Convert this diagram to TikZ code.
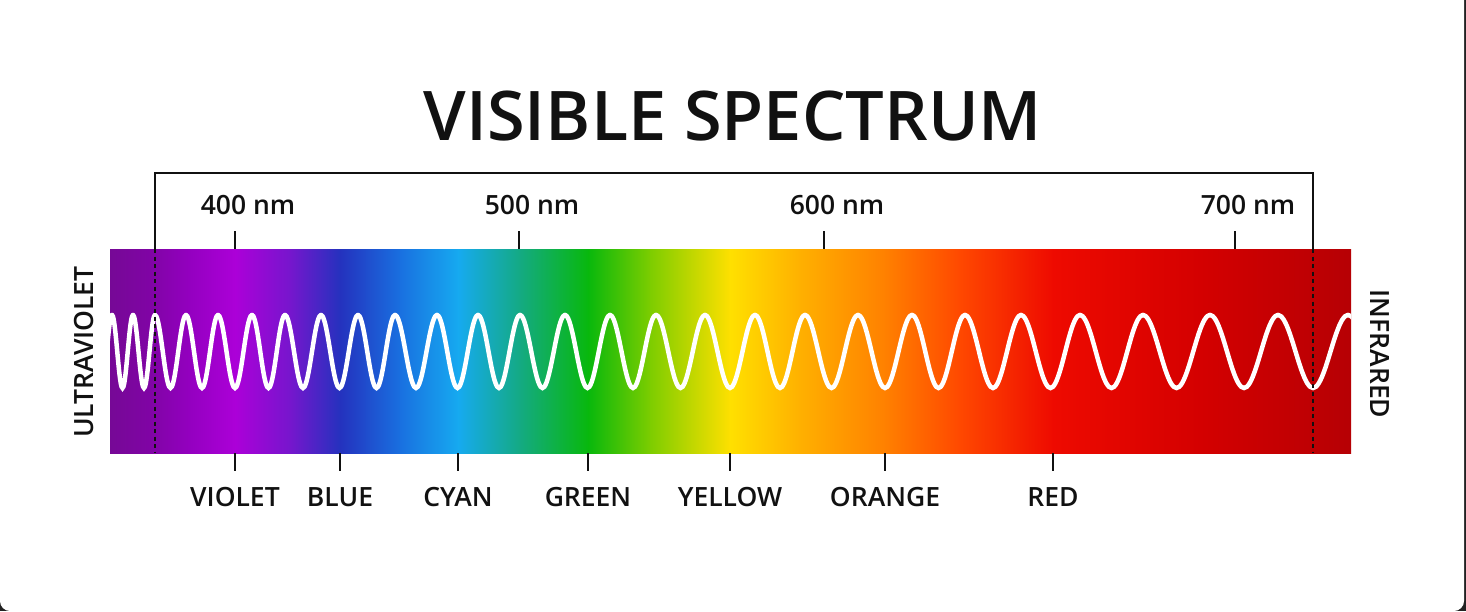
\documentclass[tikz,border=0pt]{standalone}
\usepackage{fontspec}
\setmainfont{Open Sans}[BoldFont={* Semibold}]
\definecolor{ink}{RGB}{17,17,17}
\definecolor{frame}{RGB}{34,34,34}
\definecolor{s0}{RGB}{118,8,150}
\definecolor{s1}{RGB}{128,4,165}
\definecolor{s2}{RGB}{148,0,192}
\definecolor{s3}{RGB}{172,0,216}
\definecolor{s4}{RGB}{118,22,205}
\definecolor{s5}{RGB}{36,50,190}
\definecolor{s6}{RGB}{25,112,224}
\definecolor{s7}{RGB}{22,170,240}
\definecolor{s8}{RGB}{20,170,130}
\definecolor{s9}{RGB}{8,184,12}
\definecolor{s10}{RGB}{125,205,0}
\definecolor{s11}{RGB}{255,224,0}
\definecolor{s12}{RGB}{255,176,0}
\definecolor{s13}{RGB}{255,128,0}
\definecolor{s14}{RGB}{255,72,0}
\definecolor{s15}{RGB}{238,10,0}
\definecolor{s16}{RGB}{212,0,0}
\definecolor{s17}{RGB}{182,0,4}
\begin{document}
\begin{tikzpicture}[x=1pt,y=-1pt,
  titlestyle/.style={font=\bfseries\fontsize{68.5}{76}\selectfont, text=ink, inner sep=0pt, anchor=base},
  lbl/.style={font=\bfseries\fontsize{26.5}{30}\selectfont, text=ink, inner sep=0pt, anchor=base},
  tickline/.style={line width=2.4pt, draw=ink},
  bracketline/.style={line width=2pt, draw=ink},
  dotline/.style={line width=2.8pt, draw=ink, dash pattern=on 4pt off 3.5pt},
  waveline/.style={line width=4.5pt, draw=white, line cap=round},
  ]
\useasboundingbox (0,0) rectangle (1466,611);
\fill[frame] (0,0) rectangle (1466,611);
\fill[white, rounded corners=10pt] (0,-30) rectangle (1464,611);

% spectrum band
\foreach \xa/\xb/\ca/\cb in {110/150/s0/s1, 150/190/s1/s2, 190/235/s2/s3, 235/290/s3/s4,
  290/340/s4/s5, 340/400/s5/s6, 400/458/s6/s7, 458/520/s7/s8, 520/588/s8/s9,
  588/650/s9/s10, 650/730/s10/s11, 730/800/s11/s12, 800/885/s12/s13, 885/960/s13/s14,
  960/1053/s14/s15, 1053/1200/s15/s16, 1200/1351/s16/s17}
  \shade[left color=\ca, right color=\cb] (\xa,249) rectangle ({min(\xb+0.8,1351)},453);
\coordinate (bandNW) at (110,249);
\coordinate (bandSE) at (1351,453);

% wave
\begin{scope}
\clip (bandNW) rectangle (bandSE);
\foreach \a/\b in {70/91, 91/112, 112/133, 133/155, 155/186, 186/218, 218/252, 252/285, 285/321,
  321/358, 358/395, 395/437, 437/478, 478/520, 520/565, 565/610, 610/656, 656/705,
  705/755, 755/805, 805/858, 858/912, 912/965, 965/1021, 1021/1080, 1080/1143,
  1143/1210, 1210/1278, 1278/1348, 1348/1420}
  \draw[waveline] plot[domain=0:360, samples=25, smooth] ({\a+(\b-\a)*(\x/360)}, {351.5-36.5*cos(\x)});
\end{scope}

% bracket and dotted limits
\coordinate (bl) at (155,249);
\coordinate (br) at (1313,249);
\coordinate (blb) at (155,453);
\coordinate (brb) at (1313,453);
\draw[bracketline] (bl) -- (155,173) -- (1313,173) -- (br);
\draw[dotline] (bl) -- (blb);
\draw[dotline] (br) -- (brb);

% title
\node[titlestyle] (title) at (733,140) {VISIBLE SPECTRUM};

% top scale
\foreach \x/\t/\n in {235/400 nm/n400, 519/500 nm/n500, 824/600 nm/n600, 1235/700 nm/n700}{
  \coordinate (\n-a) at (\x,231);
  \coordinate (\n-b) at (\x,249);
  \draw[tickline] (\n-a) -- (\n-b);
  \node[lbl] (\n) at (\x+13,214) {\t};
}

% bottom colour names
\foreach \x/\t in {235/VIOLET, 340/BLUE, 458/CYAN, 588/GREEN, 730/YELLOW, 885/ORANGE, 1053/RED}{
  \coordinate (\t-a) at (\x,453);
  \coordinate (\t-b) at (\x,471);
  \draw[tickline] (\t-a) -- (\t-b);
  \node[lbl] (\t) at (\x,506) {\t};
}

% side labels
\node[lbl, rotate=90] (uv) at (93,352) {ULTRAVIOLET};
\node[lbl, rotate=-90] (ir) at (1370,354) {INFRARED};
\end{tikzpicture}
\end{document}
